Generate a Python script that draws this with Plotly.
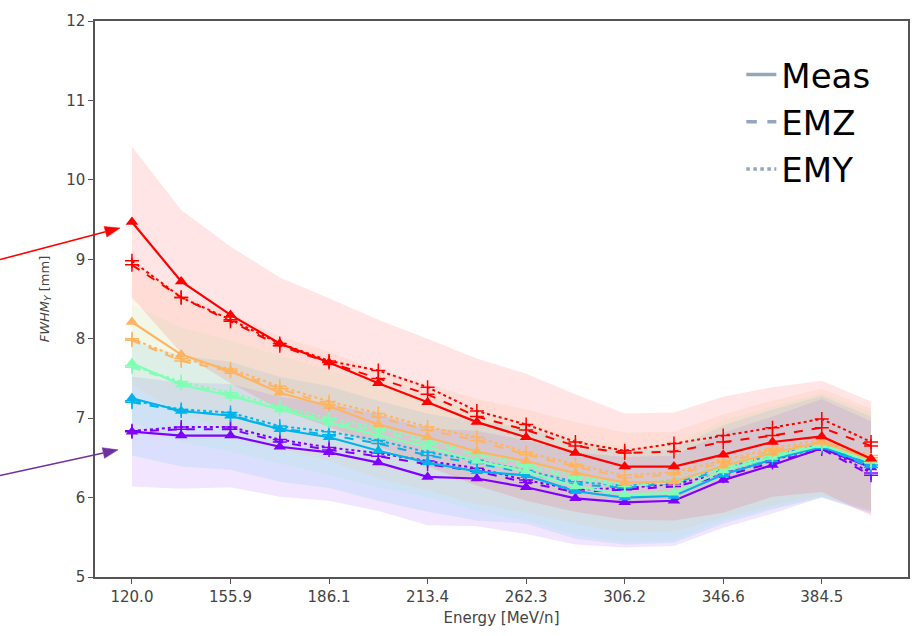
import math
import plotly.graph_objects as go

# ---- data ----
ENERGY = ["120.0", "138.5", "155.9", "171.4", "186.1", "200.0", "213.4", "238.6",
          "262.3", "284.6", "306.2", "326.7", "346.6", "365.8", "384.5", "402.6"]
TICK_LABELS = ["120.0", "155.9", "186.1", "213.4", "262.3", "306.2", "346.6", "384.5"]

GROUPS = ["purple", "blue", "green", "orange", "red"]
COLORS = {"purple": "#8000ff", "blue": "#00b4eb", "green": "#80ffb4",
          "orange": "#ffb462", "red": "#ff0000"}

MEAS = {
    "purple": [6.83, 6.78, 6.78, 6.64, 6.57, 6.44, 6.26, 6.24, 6.13, 5.99, 5.94, 5.96, 6.22, 6.41, 6.62, 6.38],
    "blue":   [7.25, 7.09, 7.03, 6.86, 6.76, 6.59, 6.44, 6.33, 6.28, 6.08, 6.00, 6.02, 6.29, 6.48, 6.64, 6.42],
    "green":  [7.69, 7.42, 7.28, 7.11, 6.94, 6.78, 6.64, 6.46, 6.33, 6.14, 6.04, 6.06, 6.34, 6.51, 6.66, 6.46],
    "orange": [8.21, 7.80, 7.59, 7.32, 7.15, 6.92, 6.76, 6.58, 6.46, 6.31, 6.19, 6.20, 6.40, 6.56, 6.70, 6.48],
    "red":    [9.47, 8.72, 8.30, 7.94, 7.70, 7.44, 7.20, 6.95, 6.76, 6.56, 6.39, 6.39, 6.54, 6.70, 6.77, 6.49],
}
EMZ = {
    "purple": [6.83, 6.86, 6.86, 6.70, 6.60, 6.52, 6.42, 6.33, 6.19, 6.07, 6.10, 6.14, 6.27, 6.44, 6.61, 6.28],
    "blue":   [7.20, 7.09, 7.04, 6.87, 6.79, 6.68, 6.53, 6.43, 6.31, 6.17, 6.12, 6.19, 6.34, 6.50, 6.64, 6.38],
    "green":  [7.64, 7.44, 7.29, 7.12, 6.96, 6.84, 6.69, 6.54, 6.39, 6.24, 6.14, 6.19, 6.37, 6.54, 6.67, 6.44],
    "orange": [7.98, 7.72, 7.59, 7.37, 7.17, 7.01, 6.85, 6.72, 6.54, 6.39, 6.25, 6.29, 6.44, 6.59, 6.70, 6.50],
    "red":    [8.93, 8.52, 8.22, 7.91, 7.70, 7.50, 7.30, 7.02, 6.85, 6.65, 6.56, 6.58, 6.70, 6.78, 6.88, 6.65],
}
EMY = {
    "purple": [6.84, 6.89, 6.89, 6.73, 6.63, 6.56, 6.46, 6.37, 6.22, 6.10, 6.12, 6.17, 6.30, 6.47, 6.64, 6.31],
    "blue":   [7.22, 7.11, 7.07, 6.90, 6.83, 6.72, 6.57, 6.47, 6.34, 6.20, 6.15, 6.22, 6.37, 6.53, 6.67, 6.41],
    "green":  [7.66, 7.46, 7.32, 7.15, 7.00, 6.88, 6.73, 6.58, 6.42, 6.27, 6.17, 6.22, 6.40, 6.57, 6.70, 6.47],
    "orange": [8.00, 7.75, 7.62, 7.40, 7.21, 7.06, 6.89, 6.76, 6.57, 6.42, 6.28, 6.32, 6.47, 6.62, 6.73, 6.53],
    "red":    [8.98, 8.52, 8.24, 7.94, 7.72, 7.60, 7.39, 7.09, 6.92, 6.70, 6.59, 6.68, 6.78, 6.88, 6.99, 6.70],
}
SIGMA = {
    "purple": [0.69, 0.67, 0.65, 0.63, 0.61, 0.61, 0.61, 0.60, 0.59, 0.58, 0.57, 0.57, 0.60, 0.61, 0.62, 0.58],
    "blue":   [0.72, 0.70, 0.68, 0.66, 0.64, 0.63, 0.62, 0.62, 0.61, 0.60, 0.59, 0.59, 0.62, 0.63, 0.64, 0.60],
    "green":  [0.74, 0.72, 0.70, 0.68, 0.66, 0.65, 0.64, 0.63, 0.62, 0.61, 0.60, 0.60, 0.63, 0.64, 0.65, 0.62],
    "orange": [0.78, 0.75, 0.73, 0.71, 0.69, 0.68, 0.67, 0.66, 0.65, 0.64, 0.63, 0.63, 0.65, 0.66, 0.67, 0.64],
    "red":    [0.95, 0.90, 0.86, 0.83, 0.81, 0.80, 0.80, 0.80, 0.80, 0.74, 0.67, 0.68, 0.73, 0.69, 0.70, 0.72],
}

LEGEND_NAMES = ["Meas", "EMZ", "EMY"]
LEGEND_DASH = ["solid", "dash", "dot"]
LEGEND_COLOR = "#93a6bb"

# figure geometry
W, H = 923, 636
ML, MR, MT, MB = 95, 15, 16, 56
PW, PH = W - ML - MR, H - MT - MB


def rgba(hexc, a):
    h = hexc.lstrip("#")
    r, g, b = int(h[0:2], 16), int(h[2:4], 16), int(h[4:6], 16)
    return f"rgba({r},{g},{b},{a})"


def to_paper(px, py):
    return (px - ML) / PW, (H - MB - py) / PH


def arrow_shapes(tail, tip, color, head_len=15, head_half=5.5, width=1.6):
    dx, dy = tip[0] - tail[0], tip[1] - tail[1]
    L = math.hypot(dx, dy)
    ux, uy = dx / L, dy / L
    px_, py_ = -uy, ux
    bx, by = tip[0] - head_len * ux, tip[1] - head_len * uy
    p1 = to_paper(bx + head_half * px_, by + head_half * py_)
    p2 = to_paper(bx - head_half * px_, by - head_half * py_)
    pt = to_paper(*tip)
    t0 = to_paper(*tail)
    b0 = to_paper(bx, by)
    line = dict(type="line", xref="paper", yref="paper", x0=t0[0], y0=t0[1], x1=b0[0], y1=b0[1],
                line=dict(color=color, width=width), layer="above")
    head = dict(type="path", xref="paper", yref="paper",
                path=f"M {pt[0]} {pt[1]} L {p1[0]} {p1[1]} L {p2[0]} {p2[1]} Z",
                fillcolor=color, line=dict(color=color, width=0.5), layer="above")
    return [line, head]


fig = go.Figure()

for grp in GROUPS:
    c = COLORS[grp]
    m = MEAS[grp]
    s = SIGMA[grp]
    lower = [a - b for a, b in zip(m, s)]
    upper = [a + b for a, b in zip(m, s)]
    fig.add_trace(go.Scatter(x=ENERGY, y=lower, mode="lines", line=dict(width=0, color=c),
                             showlegend=False, hoverinfo="skip"))
    fig.add_trace(go.Scatter(x=ENERGY, y=upper, mode="lines", line=dict(width=0, color=c),
                             fill="tonexty", fillcolor=rgba(c, 0.10),
                             showlegend=False, hoverinfo="skip"))

for grp in GROUPS:
    c = COLORS[grp]
    fig.add_trace(go.Scatter(x=ENERGY, y=MEAS[grp], mode="lines+markers",
                             line=dict(color=c, width=2.2),
                             marker=dict(symbol="triangle-up", size=11, color=c),
                             showlegend=False, name=f"Meas {grp}"))
    fig.add_trace(go.Scatter(x=ENERGY, y=EMZ[grp], mode="lines+markers",
                             line=dict(color=c, width=2, dash="dash"),
                             marker=dict(symbol="cross-thin", size=10, line=dict(color=c, width=1.5)),
                             showlegend=False, name=f"EMZ {grp}"))
    fig.add_trace(go.Scatter(x=ENERGY, y=EMY[grp], mode="lines+markers",
                             line=dict(color=c, width=2, dash="dot"),
                             marker=dict(symbol="cross-thin", size=10, line=dict(color=c, width=1.5)),
                             showlegend=False, name=f"EMY {grp}"))

for name, dash in zip(LEGEND_NAMES, LEGEND_DASH):
    fig.add_trace(go.Scatter(x=[None], y=[None], mode="lines", name=name,
                             line=dict(color=LEGEND_COLOR, width=3.5, dash=dash)))

axis_common = dict(showline=True, linecolor="#555555", linewidth=1.5, mirror=True,
                   ticks="outside", ticklen=5, tickcolor="#555555", showgrid=False,
                   zeroline=False, tickfont=dict(family="DejaVu Sans", size=15, color="#444444"))

fig.update_xaxes(type="category", range=[-0.75, 15.75], tickmode="array",
                 tickvals=TICK_LABELS, ticktext=TICK_LABELS,
                 title=dict(text="Energy [MeV/n]", font=dict(family="DejaVu Sans", size=15, color="#444444"),
                            standoff=8),
                 **axis_common)
fig.update_yaxes(range=[5, 12], dtick=1,
                 title=dict(text="<i>FWHM<sub>Y</sub></i> [mm]",
                            font=dict(family="DejaVu Sans", size=13, color="#444444"), standoff=14),
                 **axis_common)

shapes = arrow_shapes((0, 258), (120, 226), "#ff0000") + arrow_shapes((0, 477), (118, 451), "#7030a0")

fig.update_layout(
    width=W, height=H,
    margin=dict(l=ML, r=MR, t=MT, b=MB),
    plot_bgcolor="white", paper_bgcolor="white",
    legend=dict(x=0.795, y=0.955, xanchor="left", yanchor="top", bgcolor="rgba(0,0,0,0)",
                traceorder="normal",
                font=dict(family="DejaVu Sans", size=34, color="#000000"), itemwidth=30,
                tracegroupgap=0),
    shapes=shapes,
)

fig.write_html("out.html")
